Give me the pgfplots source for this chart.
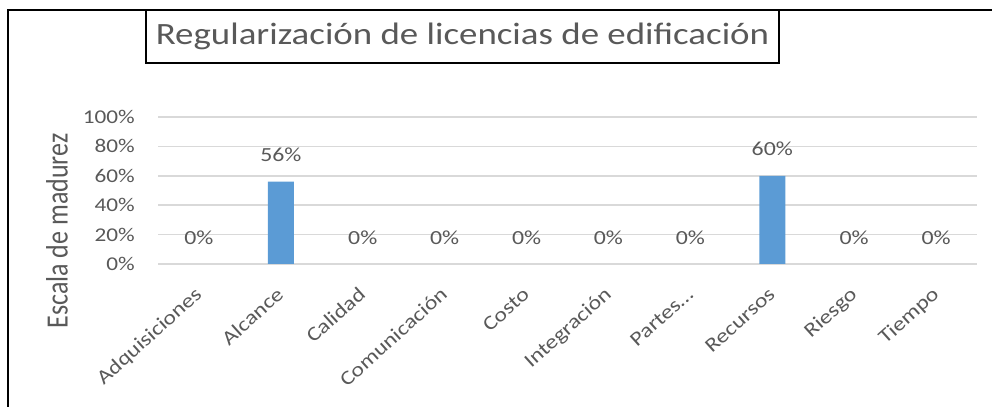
\documentclass[border=0pt]{standalone}
\usepackage{fontspec}
\usepackage{graphicx}
\usepackage{pgfplots}
\pgfplotsset{compat=1.18}
\setmainfont{Carlito}[FakeStretch=1.19]
\newfontfamily\plainfont{Carlito}
\definecolor{barblue}{HTML}{5B9BD5}
\definecolor{gridgray}{HTML}{D9D9D9}
\definecolor{textgray}{HTML}{595959}
\begin{document}
\begin{tikzpicture}
\useasboundingbox (0,0) rectangle (992bp,407bp);
\draw[line width=2bp] (8bp,0) -- (8bp,396.5bp) -- (992bp,396.5bp);
\node[draw=black, line width=1.2bp, minimum width=633bp, minimum height=53bp, inner sep=0pt, text=textgray]
  at (462.5bp,370.5bp) {\fontsize{31bp}{31bp}\selectfont Regularización de licencias de edificación};
\begin{axis}[
  at={(158bp,143bp)}, anchor=south west,
  scale only axis, width=819bp, height=147bp,
  xmin=-0.5, xmax=9.5, ymin=0, ymax=100,
  ytick={0,20,40,60,80,100},
  xtick={0,1,2,3,4,5,6,7,8,9},
  xticklabels={Adquisiciones,Alcance,Calidad,Comunicación,Costo,Integración,Partes…,Recursos,Riesgo,Tiempo},
  axis line style={draw=none},
  major tick length=0pt,
  ymajorgrids,
  grid style={color=gridgray, line width=1.5bp},
  /pgf/number format/assume math mode=true,
  yticklabel={\pgfmathprintnumber{\tick}\%},
  yticklabel style={font=\fontsize{19.5bp}{19.5bp}\selectfont, text=textgray, inner sep=0pt, anchor=east, xshift=-23bp},
  xticklabel style={font=\fontsize{20bp}{20bp}\selectfont, text=textgray, inner sep=0pt, anchor=base east, xshift=4bp, yshift=-32bp, rotate=42},
  ylabel={\scalebox{1}[1.19]{\plainfont\fontsize{26bp}{26bp}\selectfont Escala de madurez}},
  ylabel style={at={(axis description cs:-0.1233,0.2245)}, anchor=center, text=textgray, inner sep=0pt},
]
\addplot[ybar, bar width=26bp, fill=barblue, draw=none,
  nodes near coords={\pgfmathprintnumber{\pgfplotspointmeta}\%},
  every node near coord/.append style={anchor=base, yshift=20bp, inner sep=0pt, text=textgray, font=\fontsize{20bp}{20bp}\selectfont}]
  coordinates {(0,0) (1,56) (2,0) (3,0) (4,0) (5,0) (6,0) (7,60) (8,0) (9,0)};
\end{axis}
\end{tikzpicture}
\end{document}
